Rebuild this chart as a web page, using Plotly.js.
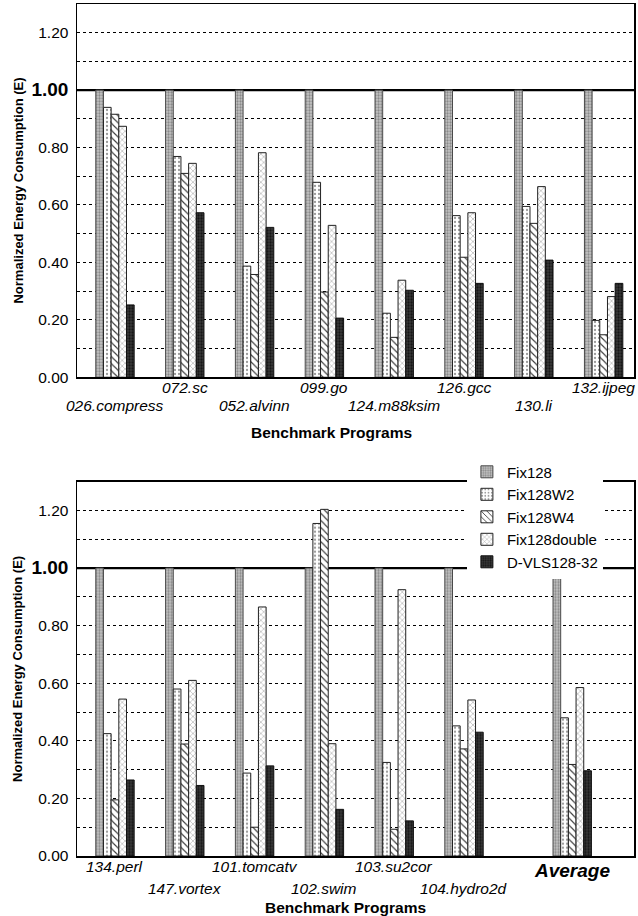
<!DOCTYPE html>
<html>
<head>
<meta charset="utf-8">
<script src="https://cdn.plot.ly/plotly-3.0.1.min.js"></script>
<style>
  html, body { margin: 0; padding: 0; background: #fff; }
  #chart { width: 638px; height: 916px; }
</style>
</head>
<body>
<div id="chart"></div>
<script>
// Benchmark groups (upper panel: integer programs, lower panel: FP programs + average)
const categoriesTop = ['026.compress', '072.sc', '052.alvinn', '099.go', '124.m88ksim', '126.gcc', '130.li', '132.ijpeg'];
const categoriesBottom = ['134.perl', '147.vortex', '101.tomcatv', '102.swim', '103.su2cor', '104.hydro2d', 'Average'];

const seriesNames = ['Fix128', 'Fix128W2', 'Fix128W4', 'Fix128double', 'D-VLS128-32'];

// Normalized energy consumption, upper panel
const fix128Top = [1.00, 1.00, 1.00, 1.00, 1.00, 1.00, 1.00, 1.00];
const w2Top     = [0.940, 0.769, 0.387, 0.679, 0.223, 0.563, 0.595, 0.198];
const w4Top     = [0.916, 0.710, 0.358, 0.297, 0.139, 0.418, 0.536, 0.148];
const doubleTop = [0.874, 0.745, 0.782, 0.529, 0.338, 0.573, 0.664, 0.281];
const dvlsTop   = [0.252, 0.573, 0.522, 0.206, 0.303, 0.327, 0.408, 0.327];

// Normalized energy consumption, lower panel
const fix128Bottom = [1.00, 1.00, 1.00, 1.00, 1.00, 1.00, 1.00];
const w2Bottom     = [0.425, 0.580, 0.288, 1.155, 0.325, 0.452, 0.480];
const w4Bottom     = [0.195, 0.389, 0.100, 1.204, 0.093, 0.372, 0.318];
const doubleBottom = [0.545, 0.610, 0.865, 0.390, 0.925, 0.542, 0.585];
const dvlsBottom   = [0.264, 0.245, 0.313, 0.162, 0.122, 0.430, 0.296];

// Y tick labels
const yTickVals = [0, 0.2, 0.4, 0.6, 0.8, 1.0, 1.2];
const yTickText = ['0.00', '0.20', '0.40', '0.60', '0.80',
  '<span style="font-size:19px"><b>1.00</b></span>', '1.20'];

const FONT = 'Arial, "Liberation Sans", sans-serif';

// fill styles per series
const styles = [
  { bg: '#c4c4c4', fg: '#8a8a8a', shape: '.', size: 3, solidity: 0.45, line: '#4a4a4a' },
  { bg: '#ffffff', fg: '#9a9a9a', shape: '.', size: 4, solidity: 0.25, line: '#222222' },
  { bg: '#ffffff', fg: '#3a3a3a', shape: '\\', size: 5, solidity: 0.22, line: '#222222' },
  { bg: '#ffffff', fg: '#a0a0a0', shape: 'x', size: 4, solidity: 0.25, line: '#222222' },
  { bg: '#3a3a3a', fg: '#161616', shape: '.', size: 3, solidity: 0.45, line: '#111111' }
];

// the summary group sits a little apart from the per-program groups
const AVG_GAP = 0.55;
const xTop = categoriesTop.map((c, i) => i);
const xBottom = categoriesBottom.map((c, i) => (c === 'Average' ? i + AVG_GAP : i));

function barTrace(name, idx, x, y, xa, ya, showLegend) {
  const s = styles[idx];
  return {
    type: 'bar', name: name, x: x, y: y, xaxis: xa, yaxis: ya,
    showlegend: showLegend, legendgroup: name,
    marker: {
      color: s.bg,
      line: { color: s.line, width: 1 },
      pattern: { shape: s.shape, fgcolor: s.fg, bgcolor: s.bg, size: s.size, solidity: s.solidity, fillmode: 'replace' }
    },
    hoverinfo: 'name+y'
  };
}

const topSeries = [fix128Top, w2Top, w4Top, doubleTop, dvlsTop];
const bottomSeries = [fix128Bottom, w2Bottom, w4Bottom, doubleBottom, dvlsBottom];

const traces = [];
seriesNames.forEach((n, i) => traces.push(barTrace(n, i, xTop, topSeries[i], 'x', 'y', false)));
seriesNames.forEach((n, i) => traces.push(barTrace(n, i, xBottom, bottomSeries[i], 'x2', 'y2', true)));

const xRange = [-0.544, 7.435];
const yRange = [0, 1.3];

function xAxis(anchor) {
  return {
    anchor: anchor, range: xRange, showticklabels: false, ticks: '',
    showgrid: false, zeroline: false, showline: true, mirror: true,
    linecolor: '#000', linewidth: 1.5, fixedrange: true
  };
}
function yAxis(anchor, domain) {
  return {
    anchor: anchor, domain: domain, range: yRange,
    tickmode: 'array', tickvals: yTickVals, ticktext: yTickText,
    tickfont: { family: FONT, size: 15.5, color: '#000' },
    ticks: '', ticklabelstandoff: 4,
    showgrid: true, gridcolor: '#000', gridwidth: 1, griddash: '3px,3px',
    minor: { dtick: 0.1, showgrid: true, gridcolor: '#000', gridwidth: 1, griddash: '3px,3px' },
    zeroline: false, showline: true, mirror: true, linecolor: '#000', linewidth: 1.5,
    fixedrange: true
  };
}

// text rows under each panel
const annotations = [];
const labelFont = { family: FONT, size: 15.5, color: '#000' };

categoriesTop.forEach((c, i) => {
  annotations.push({
    text: '<i>' + c + '</i>', x: xTop[i], xref: 'x', y: (i % 2 === 0) ? 0.5282 : 0.5493, yref: 'paper',
    xanchor: 'center', yanchor: 'middle', showarrow: false, font: labelFont
  });
});
categoriesBottom.forEach((c, i) => {
  if (c === 'Average') {
    annotations.push({
      text: '<b><i>' + c + '</i></b>', x: xBottom[i], xref: 'x2', y: -0.0165, yref: 'paper',
      xanchor: 'center', yanchor: 'middle', showarrow: false,
      font: { family: FONT, size: 19, color: '#000' }
    });
  } else {
    annotations.push({
      text: '<i>' + c + '</i>', x: xBottom[i], xref: 'x2', y: (i % 2 === 0) ? -0.0129 : -0.0387, yref: 'paper',
      xanchor: 'center', yanchor: 'middle', showarrow: false, font: labelFont
    });
  }
});

// axis titles
const titleFont = { family: FONT, size: 15.5, color: '#000' };
[[0.4578, 0.4965], [0.4829, -0.0610]].forEach(p => annotations.push({
  text: '<b>Benchmark Programs</b>', x: p[0], xref: 'paper', y: p[1], yref: 'paper',
  xanchor: 'center', yanchor: 'middle', showarrow: false, font: titleFont
}));
[0.7811, 0.2196].forEach(yy => annotations.push({
  text: '<b>Normalized Energy Consumption (E)</b>', x: -0.1059, xref: 'paper', y: yy, yref: 'paper',
  xanchor: 'center', yanchor: 'middle', textangle: -90, showarrow: false,
  font: { family: FONT, size: 13, color: '#000' }
}));

// reference level at E = 1.00
const shapes = ['y', 'y2'].map((ya, k) => ({
  type: 'line', xref: k === 0 ? 'x domain' : 'x2 domain', x0: 0, x1: 1,
  yref: ya, y0: 1, y1: 1, layer: 'below',
  line: { color: '#000', width: 2.2 }
}));

const layout = {
  width: 638, height: 916,
  margin: { l: 77, r: 4, t: 4, b: 60 },
  paper_bgcolor: '#fff', plot_bgcolor: '#fff',
  font: { family: FONT, color: '#000' },
  barmode: 'group', bargap: 0.45, bargroupgap: 0,
  xaxis: xAxis('y'),
  yaxis: yAxis('x', [0.5619, 1]),
  xaxis2: xAxis('y2'),
  yaxis2: yAxis('x2', [0, 0.4393]),
  showlegend: true,
  legend: {
    x: 0.7, xanchor: 'left', y: 0.470, yanchor: 'top',
    bgcolor: '#fff', borderwidth: 0,
    font: { family: FONT, size: 15, color: '#000' },
    itemwidth: 30, tracegroupgap: 0, traceorder: 'normal'
  },
  annotations: annotations,
  shapes: shapes
};

Plotly.newPlot('chart', traces, layout, { displayModeBar: false, staticPlot: true });
</script>
</body>
</html>
